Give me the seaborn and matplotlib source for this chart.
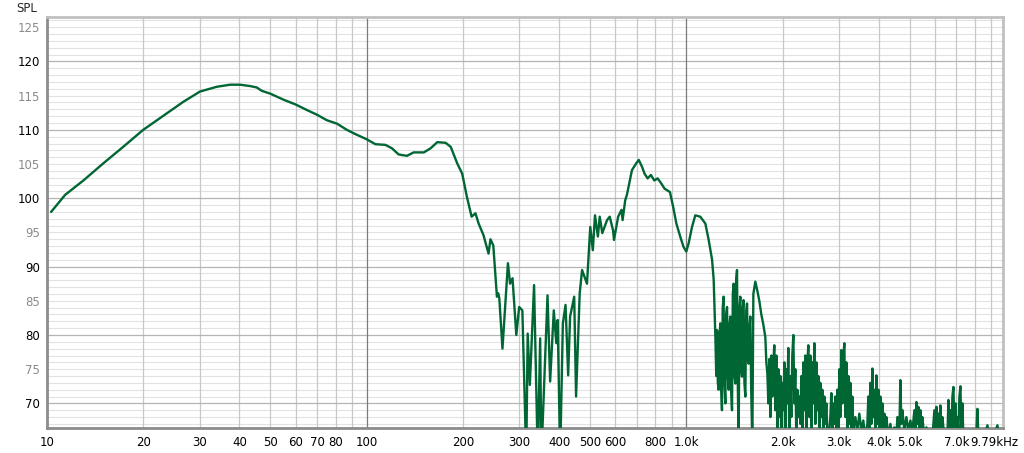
import matplotlib
matplotlib.use("Agg")
import matplotlib.pyplot as plt
import matplotlib.transforms as mtransforms
import seaborn as sns
import pandas as pd

# ---------------- data ----------------
freq_low = [10.3, 11.4, 13.0, 15.0, 17.3, 20.0, 23.7, 26.7, 30.1, 34.0, 37.4, 40.2,
            43.2, 45.3, 47.0, 49.9, 55.0, 60.0, 65.0, 70.0, 75.1, 80.8, 86.7, 92.0,
            100.2, 106.5, 114.5, 120.0, 125.9, 133.7, 140.3, 151.0, 158.5, 166.4,
            176.7, 183.3, 192.0, 199.0]
spl_low = [98.0, 100.5, 102.6, 105.1, 107.5, 110.0, 112.4, 114.1, 115.6, 116.3, 116.6, 116.6,
           116.4, 116.2, 115.7, 115.3, 114.4, 113.7, 112.9, 112.2, 111.4, 110.9, 110.0, 109.4,
           108.6, 107.9, 107.8, 107.3, 106.4, 106.2, 106.7, 106.7, 107.3, 108.2,
           108.1, 107.5, 105.1, 103.6]

freq_dip = [205.9, 213, 219, 224, 232, 240.6, 244, 249, 255.6, 258, 260, 266, 276.7, 281,
            286, 293.9, 300, 307, 315.7, 319, 324, 334, 343, 349, 352, 368, 375, 385, 392,
            396, 403, 411, 419, 427, 433, 446, 452, 464]
spl_dip = [100.2, 97.3, 97.8, 96.3, 94.6, 91.9, 94.0, 93.1, 85.6, 86.1, 85.4, 78.0, 90.5, 87.5,
           88.3, 80.0, 84.1, 83.6, 62.0, 80.2, 72.7, 87.3, 62.0, 79.5, 62.0, 85.8, 73.2, 83.6, 78.8,
           82.2, 62.0, 81.7, 84.4, 74.1, 82.7, 85.6, 71.0, 86.1]

freq_mid = [472, 489, 500.7, 510, 518, 529, 536, 546, 565, 576, 590, 594, 612, 627, 632, 644,
            652, 676, 697, 710, 727, 740, 757, 775, 794, 813, 834, 855, 889, 910, 931, 957,
            980, 1000, 1017, 1042, 1067, 1106, 1147, 1175, 1204, 1218]
spl_mid = [89.5, 87.5, 95.8, 92.4, 97.5, 94.4, 97.3, 94.9, 96.8, 97.3, 95.3, 93.9, 97.3, 98.3, 96.8, 99.7,
           100.5, 104.1, 105.1, 105.6, 104.6, 103.6, 102.9, 103.4, 102.6, 102.9, 102.2, 101.4, 100.9, 98.7, 96.3, 94.4,
           92.9, 92.2, 93.4, 95.8, 97.5, 97.3, 96.3, 93.9, 91.0, 88.1]

freq_hi = [1233, 1241, 1248, 1255, 1262, 1270, 1278, 1285, 1293, 1300, 1308, 1316, 1325, 1333,
           1341, 1349, 1357, 1365, 1373, 1381, 1390, 1398, 1406, 1415, 1424, 1432, 1441, 1449,
           1458, 1467, 1476, 1485, 1494, 1502, 1511, 1520, 1530, 1540, 1549, 1558, 1567, 1576,
           1586, 1596, 1609, 1621, 1644, 1668, 1692, 1717,
           1742, 1767, 1780, 1793, 1806, 1819, 1832, 1845, 1858, 1872, 1885, 1899, 1913, 1927,
           1941, 1954, 1969, 1983, 1997, 2012, 2026, 2041, 2056, 2070, 2085, 2101, 2116, 2131,
           2146, 2162, 2178, 2193, 2209, 2225, 2241, 2257, 2274, 2290, 2307, 2323, 2340, 2357,
           2374, 2391, 2409, 2426, 2444, 2461, 2479, 2497, 2515, 2533, 2552, 2570, 2589, 2607,
           2626, 2645, 2664, 2684, 2703, 2723, 2742, 2762, 2782, 2802, 2822, 2843, 2863, 2884,
           2905, 2926, 2947, 2969, 2990, 3012, 3033, 3055, 3078, 3100, 3122, 3145, 3168, 3190,
           3213, 3237, 3260, 3284, 3307, 3331, 3380, 3428, 3478, 3528, 3579, 3632, 3685, 3711,
           3738, 3765, 3792, 3820, 3848, 3876, 3904, 3932, 3960, 3989, 4018, 4047, 4076, 4106,
           4135, 4165, 4195, 4226, 4287, 4349, 4413, 4477, 4542, 4574, 4641, 4674, 4708, 4742,
           4811, 4881, 4952, 5024, 5097, 5171, 5208, 5246, 5284, 5322, 5360, 5399, 5438, 5477,
           5557, 5638, 5720, 5803, 5887, 5972, 6016, 6059, 6103, 6147, 6191, 6236, 6281, 6327,
           6418, 6512, 6559, 6606, 6654, 6702, 6751, 6800, 6849, 6898, 6948, 6998, 7049, 7100,
           7151, 7203, 7255, 7308, 7361, 7467, 7575, 7685, 7796, 7909, 8084, 8142, 8201, 8441,
           8750, 8939, 9404, 9612, 9790]
spl_hi = [79.7, 74.0, 80.7, 73.0, 72.0, 80.0, 81.7, 72.5, 69.0, 84.0, 85.6, 73.0, 70.0, 83.0,
          84.1, 74.0, 72.0, 81.5, 82.7, 72.0, 69.0, 86.0, 87.5, 74.0, 72.9, 88.0, 89.5, 73.0,
          64.0, 84.0, 85.6, 75.0, 73.9, 84.0, 85.1, 73.0, 71.0, 83.5, 84.6, 76.5, 75.8, 81.0,
          82.7, 72.0, 64.0, 86.0, 87.8, 86.5, 85.0, 83.0,
          81.5, 79.7, 76.0, 74.4, 70.0, 76.5, 68.0, 77.0, 71.0, 76.0, 78.5, 69.0, 77.0, 66.0,
          75.0, 68.0, 74.0, 65.0, 73.0, 69.0, 76.0, 66.0, 75.0, 70.0, 78.1, 65.0, 74.0, 68.0,
          77.0, 80.0, 70.0, 75.0, 65.0, 72.0, 68.0, 71.0, 67.0, 74.0, 66.0, 76.0, 69.0, 77.0,
          65.0, 76.0, 78.5, 68.0, 77.0, 65.0, 76.0, 70.0, 78.8, 67.0, 76.0, 69.0, 74.0, 66.0,
          73.0, 68.0, 72.0, 66.0, 71.0, 67.0, 70.0, 66.0, 62.0, 66.0, 68.0, 71.5, 66.0, 70.0,
          67.0, 71.0, 66.0, 72.0, 66.0, 75.0, 68.0, 77.8, 70.0, 77.0, 78.8, 68.0, 76.0, 66.0,
          74.0, 67.0, 73.0, 65.0, 71.0, 66.0, 68.0, 66.0, 68.5, 66.0, 67.5, 65.0, 67.0, 71.0,
          66.0, 73.0, 67.0, 75.1, 68.0, 72.0, 66.0, 74.1, 67.0, 72.0, 65.0, 71.0, 66.0, 70.0,
          65.0, 68.5, 66.0, 68.0, 65.0, 67.0, 65.0, 66.5, 65.0, 68.0, 66.0, 73.4, 67.0, 69.0,
          66.0, 68.0, 66.0, 67.5, 66.0, 69.0, 66.0, 70.2, 67.0, 69.5, 66.0, 69.0, 66.0, 68.0,
          65.0, 66.5, 65.0, 66.0, 65.0, 69.0, 66.0, 69.5, 66.0, 68.5, 66.0, 69.7, 66.0, 68.0,
          65.0, 66.0, 65.0, 70.5, 66.0, 69.0, 65.0, 71.0, 72.4, 66.0, 70.0, 65.0, 68.0, 66.0,
          71.0, 72.5, 66.0, 70.0, 65.0, 66.0, 65.0, 66.0, 65.0, 65.5, 66.0, 69.2, 65.0, 64.0,
          66.8, 64.0, 66.8, 64.0, 64.0]

x_tick_values = [10, 20, 30, 40, 50, 60, 70, 80, 100, 200, 300, 400, 500, 600, 800,
                 1000, 2000, 3000, 4000, 5000, 7000, 9790]
x_tick_labels = ["10", "20", "30", "40", "50", "60", "70", "80", "100", "200", "300",
                 "400", "500", "600", "800", "1.0k", "2.0k", "3.0k", "4.0k", "5.0k",
                 "7.0k", "9.79kHz"]
y_tick_values = [70, 75, 80, 85, 90, 95, 100, 105, 110, 115, 120, 125]

df = pd.DataFrame({
    "freq": freq_low + freq_dip + freq_mid + freq_hi,
    "spl": spl_low + spl_dip + spl_mid + spl_hi,
})

# ---------------- figure ----------------
sns.set_style("white")
plt.rcParams["font.family"] = ["DejaVu Sans"]

fig = plt.figure(figsize=(10.24, 4.53), dpi=100)
ax = fig.add_axes([47 / 1024, 1 - 428 / 453, (1003 - 47) / 1024, (428 - 17) / 453])
ax.set_xscale("log")
ax.set_xlim(10, 9790)
ax.set_ylim(66.4, 126.5)

# grid
minor_x = []
for dec in (10, 100, 1000):
    for m in range(1, 10):
        v = dec * m
        if 10 < v < 9790:
            minor_x.append(v)
for v in minor_x:
    if v in (100, 1000):
        ax.axvline(v, color="#7a7a7a", lw=0.9, zorder=1)
    else:
        ax.axvline(v, color="#c8c8c8", lw=0.9, zorder=0.5)
for v in range(67, 127):
    if v % 10 == 0:
        ax.axhline(v, color="#b4b4b4", lw=0.9, zorder=0.6)
    else:
        ax.axhline(v, color="#e2e2e2", lw=0.8, zorder=0.4)

sns.lineplot(data=df, x="freq", y="spl", ax=ax, color="#006633", lw=1.7,
             estimator=None, sort=False, zorder=3)

ax.set_xlabel("")
ax.set_ylabel("")
ax.set_xticks(x_tick_values)
ax.set_xticklabels(x_tick_labels)
ax.xaxis.set_minor_locator(matplotlib.ticker.NullLocator())
ax.set_yticks(y_tick_values)
ax.set_yticklabels([str(v) for v in y_tick_values])
ax.tick_params(axis="both", length=0, labelsize=8.5, colors="#000000")
ax.tick_params(axis="x", pad=6)
ax.tick_params(axis="y", pad=5)
for lbl, v in zip(ax.get_yticklabels(), y_tick_values):
    lbl.set_color("#000000" if v % 10 == 0 else "#8a8a8a")
last = ax.get_xticklabels()[-1]
last.set_transform(last.get_transform() + mtransforms.ScaledTranslation(-6 / 72, 0, fig.dpi_scale_trans))

for side in ("left", "bottom"):
    ax.spines[side].set_color("#8c8c8c")
    ax.spines[side].set_linewidth(2.0)
for side in ("top", "right"):
    ax.spines[side].set_color("#c0c0c0")
    ax.spines[side].set_linewidth(2.0)

fig.text(16 / 1024, 1 - 9 / 453, "SPL", fontsize=8.5, va="center", ha="left")

fig.savefig("out.png", dpi=100)
